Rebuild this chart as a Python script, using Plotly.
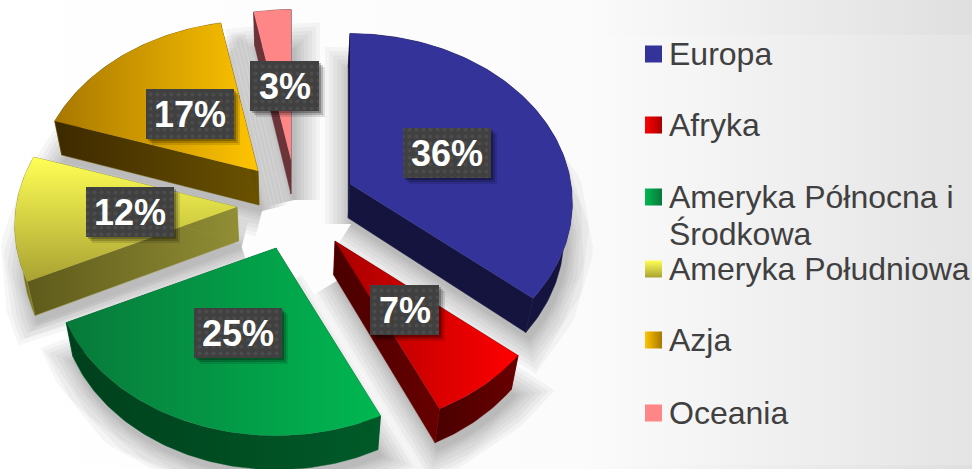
import math
import plotly.graph_objects as go

# ---- data ----
categories = ["Europa", "Afryka", "Ameryka Północna i<br>Środkowa", "Ameryka Południowa", "Azja", "Oceania"]
values = [36, 7, 25, 12, 17, 3]

# ---- styling / layout ----
top_colors = [("#333399", "#333399", "horizontal"), ("#a80000", "#ff0000", "horizontal"),
              ("#08793a", "#00b852", "horizontal"), ("#a9a233", "#ffff55", "vertical"),
              ("#a87800", "#ffc400", "horizontal"), ("#ff8686", "#ff8686", "horizontal")]
side_colors = [("#14143f", "#14143f"), ("#4a0000", "#680000"), ("#00401c", "#005a28"),
               ("#5e5a1a", "#918e36"), ("#3d2900", "#6a5200"), ("#6b3438", "#6b3438")]
legend_swatch = [("#333399", "#333399", "none"), ("#ff0000", "#a80000", "horizontal"),
                 ("#00b852", "#08793a", "horizontal"), ("#ffff55", "#a9a233", "vertical"),
                 ("#ffc400", "#a87800", "horizontal"), ("#ff8686", "#ff8686", "none")]
apex = [(350, 184), (335, 241), (276, 248), (237, 207), (258, 171), (291, 160)]
label_centers = [(447, 153), (404.5, 310), (238, 333), (130, 212), (190, 114), (284.5, 86)]
legend_y = [54, 125, 197, 269, 340, 413]
RX, RY, K, DEPTH, CX = 221, 167, 0.11, 34, 290
SHADOW_WIDTHS = [52, 44, 36, 28, 20, 14, 8, 3]


def proj(deg, ax, ay, r=1.0):
    t = math.radians(deg)
    yn = -math.cos(t) * r
    s = 1 / (1 - K * yn)
    return ax + RX * r * math.sin(t) * s, ay + RY * yn * s


def drop(p):
    return p[0] - 0.03 * (p[0] - CX), p[1] + DEPTH


def rect(x0, y0, x1, y1):
    return [x0, x1, x1, x0, x0], [y0, y0, y1, y1, y0]


def face(fig, pts, c0, c1, kind="horizontal", name=None, width=0.0, opacity=1.0):
    closed = list(pts) + [pts[0]]
    fig.add_trace(go.Scatter(
        x=[p[0] for p in closed], y=[p[1] for p in closed], mode="lines", fill="toself",
        name=name, hoverinfo="name" if name else "skip", opacity=opacity,
        line=dict(width=width, color=c1),
        fillgradient=dict(type=kind, colorscale=[[0, c0], [1, c1]])))


fig = go.Figure()

# page and panel background
x, y = rect(0, 0, 972, 469)
fig.add_trace(go.Scatter(x=x, y=y, mode="lines", line_width=0, fill="toself", hoverinfo="skip",
                         fillgradient=dict(type="horizontal", colorscale=[[0, "#ffffff"], [0.6, "#fbfbfb"], [1, "#dfdfdf"]])))
x, y = rect(609, 35, 972, 465)
fig.add_trace(go.Scatter(x=x, y=y, mode="lines", line_width=0, fill="toself", hoverinfo="skip",
                         fillgradient=dict(type="horizontal", colorscale=[[0, "#fafafa"], [1, "#e4e4e4"]])))

# wedge outlines from the values
total = sum(values)
angle = 0
wedges = []
for i, v in enumerate(values):
    sweep = 360 * v / total
    n = max(8, int(sweep))
    arc = [proj(angle + sweep * j / n, *apex[i]) for j in range(n + 1)]
    wedges.append((apex[i], arc))
    angle += sweep

# soft shadows
for width in SHADOW_WIDTHS:
    for a, arc in wedges:
        bottom = [drop(p) for p in [a] + arc]
        sx = [p[0] + 3 for p in bottom] + [bottom[0][0] + 3]
        sy = [p[1] + 6 for p in bottom] + [bottom[0][1] + 6]
        fig.add_trace(go.Scatter(x=sx, y=sy, mode="lines", fill="toself", opacity=0.032, hoverinfo="skip",
                                 fillcolor="#000000", line=dict(color="#000000", width=width)))

# extruded sides and top faces
for i, (a, arc) in enumerate(wedges):
    c0, c1 = side_colors[i]
    face(fig, arc + [drop(p) for p in reversed(arc)], c0, c1, width=0.5)
    for end in (arc[0], arc[-1]):
        face(fig, [a, end, drop(end), drop(a)], c0, c1, width=0.5)
    t0, t1, kind = top_colors[i]
    face(fig, [a] + arc, t0, t1, kind, name=categories[i].replace("<br>", " "))

# percentage labels
for v, (cx, cy) in zip(values, label_centers):
    half = 44 if v >= 10 else 34.5
    for off, op in [(6, 0.12), (4, 0.18), (2, 0.25)]:
        x, y = rect(cx - half + off, cy - 25 + off, cx + half + off, cy + 25 + off)
        fig.add_trace(go.Scatter(x=x, y=y, mode="lines", line_width=0, fill="toself", opacity=op,
                                 fillcolor="#000000", hoverinfo="skip"))
    x, y = rect(cx - half, cy - 25, cx + half, cy + 25)
    fig.add_trace(go.Scatter(x=x, y=y, mode="lines", line_width=0, fill="toself", hoverinfo="skip",
                             fillcolor="#404040",
                             fillpattern=dict(shape=".", bgcolor="#404040", fgcolor="#585858",
                                              size=7, solidity=0.25)))
    fig.add_annotation(x=cx, y=cy, text=f"{v}%", showarrow=False, xanchor="center", yanchor="middle",
                       font=dict(family="Liberation Sans", size=36, color="#ffffff", weight="bold"))

# legend
for name, ly, (c0, c1, kind) in zip(categories, legend_y, legend_swatch):
    fig.add_trace(go.Scatter(x=[653.5], y=[ly], mode="markers", hoverinfo="skip",
                             marker=dict(symbol="square", size=17, color=c0, line_width=0,
                                         gradient=dict(type=kind, color=c1))))
    for j, line in enumerate(name.split("<br>")):
        fig.add_annotation(x=669, y=ly + j * 36.5, text=line, showarrow=False, xanchor="left",
                           yanchor="middle", xshift=-2, yshift=0,
                           font=dict(family="Liberation Sans", size=32, color="#404040"))

fig.update_layout(
    width=972, height=469, margin=dict(l=0, r=0, t=0, b=0), showlegend=False,
    paper_bgcolor="#ffffff", plot_bgcolor="#ffffff",
    xaxis=dict(range=[0, 972], visible=False, fixedrange=True),
    yaxis=dict(range=[469, 0], visible=False, fixedrange=True),
)
fig.write_html("out.html", config={"displayModeBar": False},
               post_script="document.body.style.margin='0';document.body.style.overflow='hidden';")
